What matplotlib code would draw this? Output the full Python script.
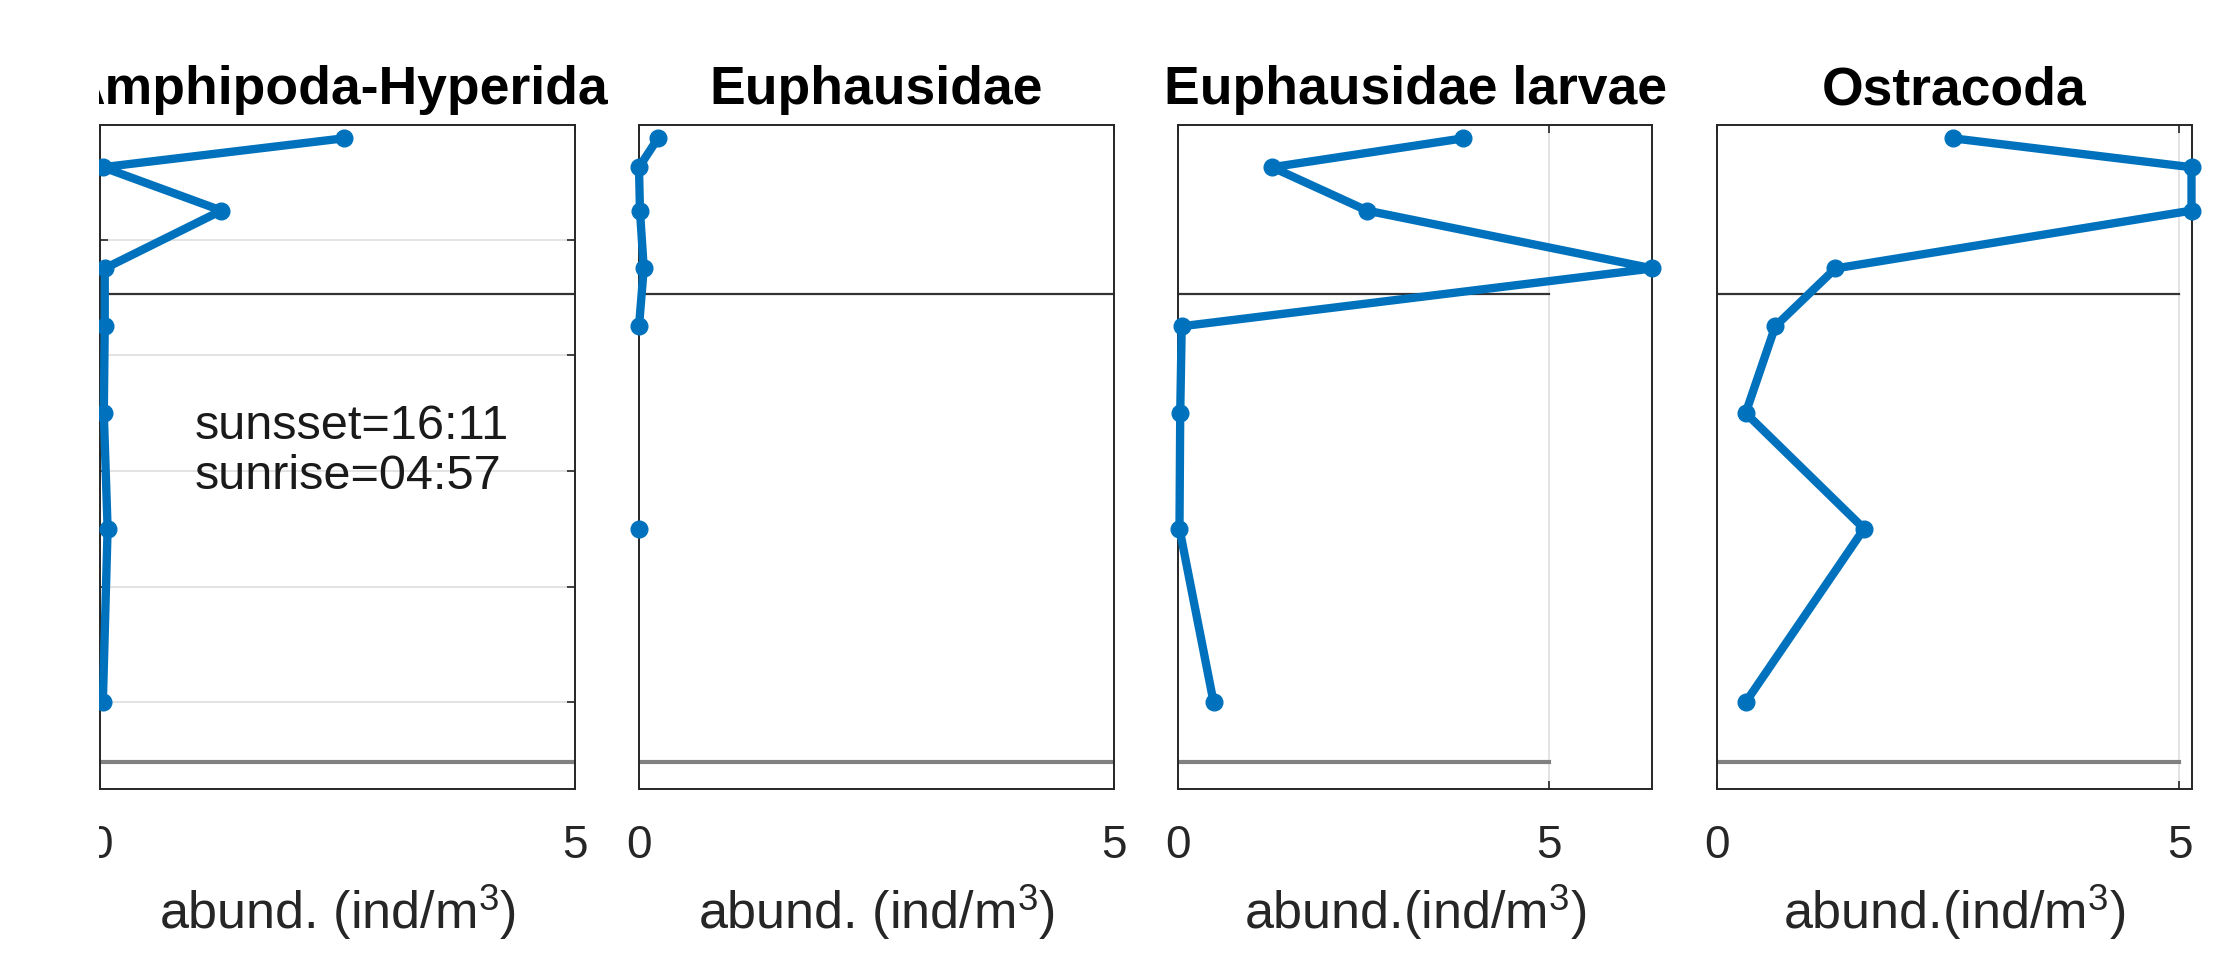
"""
Vertical abundance profiles of four zooplankton groups (ind/m3) against
sampling depth, one panel per group, with the two reference depth lines.
"""

import numpy as np
import matplotlib.pyplot as plt
from matplotlib.patches import Rectangle


# mid-depth of each net stratum (m)
DEPTH = [12.5, 37.5, 75, 125, 175, 250, 350, 500]

AMPHIPODA = [2.57, 0.03, 1.28, 0.05, 0.05, 0.04, 0.08, 0.03]
EUPHAUSIDAE = [0.20, 0.0, 0.01, 0.05, 0.0, np.nan, 0.0, np.nan]
EUPH_LARVAE = [3.85, 1.27, 2.55, 6.40, 0.05, 0.03, 0.02, 0.48]
OSTRACODA = [2.55, 5.13, 5.13, 1.28, 0.63, 0.31, 1.59, 0.31]

TITLES = ["Amphipoda-Hyperida", "Euphausidae", "Euphausidae larvae", "Ostracoda"]
XLABELS = [
    r"abund. (ind/m$^3$)",
    r"abund. (ind/m$^3$)",
    r"abund.(ind/m$^3$)",
    r"abund.(ind/m$^3$)",
]
GRID_AXIS = ["y", None, "x", "x"]

XTICKS = [0, 5]
YTICKS = [100, 200, 300, 400, 500]
UPPER_DEPTH = 147
LOWER_DEPTH = 552
LINE_X = [0, 5]
SUN_NOTE = "sunsset=16:11\nsunrise=04:57"

BLUE = "#0072BD"
AX_GREY = "0.15"

plt.rcParams["font.family"] = ["Liberation Sans", "DejaVu Sans"]
plt.rcParams["mathtext.fontset"] = "custom"
plt.rcParams["mathtext.rm"] = "Liberation Sans"
plt.rcParams["mathtext.it"] = "Liberation Sans:italic"


def draw_panel(ax, values, title, xlabel, grid_axis, show_yticks):
    ax.plot([LINE_X[0], LINE_X[1]], [UPPER_DEPTH, UPPER_DEPTH],
            color="0.2", linewidth=1.6, zorder=2)
    ax.plot([LINE_X[0], LINE_X[1]], [LOWER_DEPTH, LOWER_DEPTH],
            color="0.5", linewidth=3, zorder=2)
    ax.plot(values, DEPTH, color=BLUE, linewidth=6, marker="o",
            markersize=12, clip_on=False, zorder=5)

    ax.set_xlim(0, max(5, np.nanmax(values)))
    ax.set_ylim(575, 1)
    ax.set_xticks(XTICKS)
    ax.set_xticklabels([str(t) for t in XTICKS])
    if show_yticks:
        ax.set_yticks(YTICKS)
        ax.set_yticklabels([])
    else:
        ax.set_yticks([])

    ax.tick_params(direction="in", top=True, right=True, length=6,
                   width=1.2, colors=AX_GREY, labelsize=33, pad=25)
    for spine in ax.spines.values():
        spine.set_color(AX_GREY)
        spine.set_linewidth(1.4)

    if grid_axis is not None:
        ax.grid(True, axis=grid_axis, color="0.87", linewidth=1.2)
        ax.set_axisbelow(True)

    ax.set_title(title, fontsize=38.5, fontweight="bold", pad=15)
    ax.set_xlabel(xlabel, fontsize=37.5, color=AX_GREY)
    ax.xaxis.set_label_coords(0.5, -0.14)


def main() -> None:
    W, H = 2229, 966
    fig = plt.figure(figsize=(W / 100, H / 100), dpi=100)

    series = [AMPHIPODA, EUPHAUSIDAE, EUPH_LARVAE, OSTRACODA]
    lefts = [100, 639, 1178, 1717]
    width, bottom, height = 474.5, 966 - 789, 664

    axes = []
    for i, values in enumerate(series):
        ax = fig.add_axes([lefts[i] / W, bottom / H, width / W, height / H])
        draw_panel(ax, values, TITLES[i], XLABELS[i], GRID_AXIS[i], i == 0)
        axes.append(ax)

    axes[0].text(1.0, 283, SUN_NOTE, fontsize=35, color="0.1",
                 ha="left", va="center", linespacing=1.15)

    # the exported figure is cut just left of the first axes
    fig.add_artist(Rectangle((0, 0), 99 / W, 1, transform=fig.transFigure,
                             facecolor="white", edgecolor="none", zorder=20))

    fig.savefig("out.png", dpi=100)


if __name__ == "__main__":
    main()
